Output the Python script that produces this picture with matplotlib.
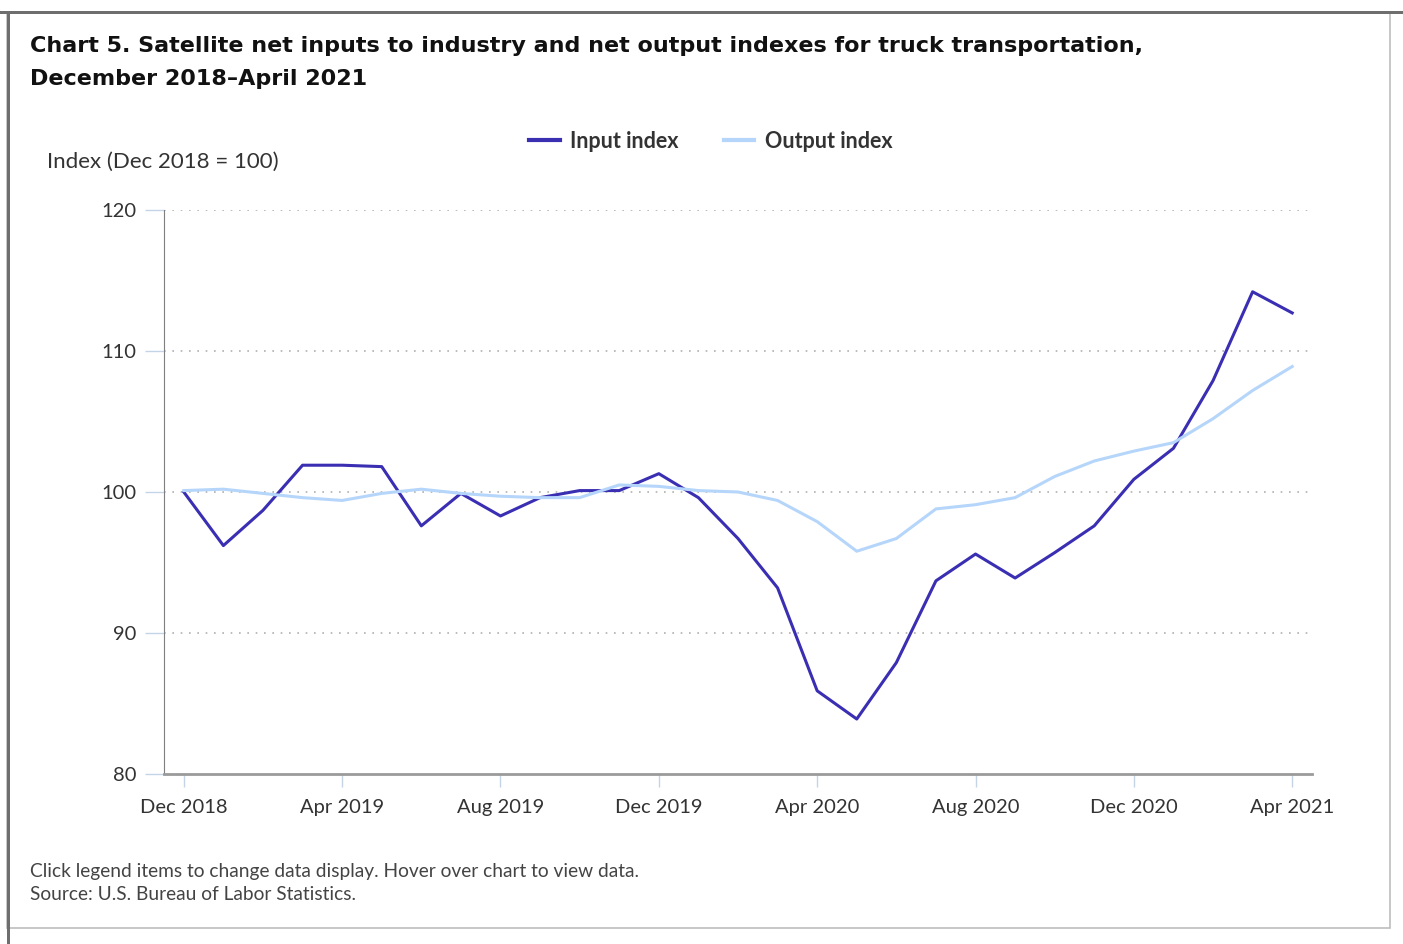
import matplotlib.pyplot as plt
from matplotlib.patches import Rectangle

# monthly values, Dec 2018 .. Apr 2021
months = ['Dec 2018', 'Jan 2019', 'Feb 2019', 'Mar 2019', 'Apr 2019', 'May 2019', 'Jun 2019',
          'Jul 2019', 'Aug 2019', 'Sep 2019', 'Oct 2019', 'Nov 2019', 'Dec 2019', 'Jan 2020',
          'Feb 2020', 'Mar 2020', 'Apr 2020', 'May 2020', 'Jun 2020', 'Jul 2020', 'Aug 2020',
          'Sep 2020', 'Oct 2020', 'Nov 2020', 'Dec 2020', 'Jan 2021', 'Feb 2021', 'Mar 2021',
          'Apr 2021']
input_index = [100.0, 96.2, 98.7, 101.9, 101.9, 101.8, 97.6, 99.9, 98.3, 99.6, 100.1, 100.1,
               101.3, 99.6, 96.7, 93.2, 85.9, 83.9, 87.9, 93.7, 95.6, 93.9, 95.7, 97.6,
               100.9, 103.1, 107.9, 114.2, 112.7]
output_index = [100.1, 100.2, 99.9, 99.6, 99.4, 99.9, 100.2, 99.9, 99.7, 99.6, 99.6, 100.5,
                100.4, 100.1, 100.0, 99.4, 97.9, 95.8, 96.7, 98.8, 99.1, 99.6, 101.1, 102.2,
                102.9, 103.5, 105.2, 107.2, 108.9]
yticks = [80, 90, 100, 110, 120]

FONT = 'Lato'
txt = '#333333'

fig = plt.figure(figsize=(14.03, 9.44), dpi=100)

# screenshot frame
fig.patches.append(Rectangle((7 / 1403, 1 - 928 / 944), (1390 - 7) / 1403, (928 - 12) / 944,
                             transform=fig.transFigure, fill=False, edgecolor='#bdbdbd', lw=1.2))
fig.patches.append(Rectangle((0, 1 - 14 / 944), 1, 3 / 944, transform=fig.transFigure,
                             color='#6e6e6e', lw=0))
fig.patches.append(Rectangle((7 / 1403, 1 - 944 / 944), 3 / 1403, (944 - 12) / 944,
                             transform=fig.transFigure, color='#6e6e6e', lw=0))

ax = fig.add_axes([164 / 1403, 1 - 774 / 944, (1312 - 164) / 1403, (774 - 210) / 944])
x = list(range(len(months)))
ax.plot(x, input_index, color='#3a2fb3', lw=2.2, label='Input index')
ax.plot(x, output_index, color='#b5d6fa', lw=2.2, label='Output index')

ax.set_xlim(-0.5, 28.5)
ax.set_ylim(80, 120)
ax.set_yticks(yticks)
ax.set_yticklabels([str(v) for v in yticks], fontfamily=FONT, fontsize=14.5, color=txt)
ax.set_xticks(x[::4])
ax.set_xticklabels(months[::4], fontfamily=FONT, fontsize=14.5, color=txt)
ax.tick_params(axis='x', length=9, color='#c4d3e6', width=1, pad=9)
ax.tick_params(axis='y', length=14, color='#c4d3e6', width=1, pad=6)

for v in yticks[1:]:
    ax.axhline(v, color='#b0b0b0', lw=1.2, ls=(0, (1, 4)), zorder=0)

for s in ['top', 'right']:
    ax.spines[s].set_visible(False)
ax.spines['left'].set_color('#7f7f7f')
ax.spines['bottom'].set_color('#9a9a9a')
ax.spines['bottom'].set_linewidth(2)

leg = fig.legend(loc='center', bbox_to_anchor=(711 / 1403, 1 - 141 / 944), ncol=2,
                 frameon=False, handlelength=1.4, columnspacing=2.1, handletextpad=0.5,
                 prop={'family': FONT, 'size': 15.5, 'weight': 'bold'})
for t in leg.get_texts():
    t.set_color(txt)
for h in leg.get_lines():
    h.set_linewidth(3)

fig.text(30 / 1403, 1 - 46 / 944,
         'Chart 5. Satellite net inputs to industry and net output indexes for truck transportation,',
         fontfamily='DejaVu Sans', fontweight='bold', fontsize=16, color='#111111', va='center')
fig.text(30 / 1403, 1 - 79 / 944, 'December 2018\u2013April 2021',
         fontfamily='DejaVu Sans', fontweight='bold', fontsize=16, color='#111111', va='center')
fig.text(47 / 1403, 1 - 162 / 944, 'Index (Dec 2018 = 100)', fontfamily=FONT, fontsize=16,
         color=txt, va='center')
fig.text(30 / 1403, 1 - 871 / 944,
         'Click legend items to change data display. Hover over chart to view data.',
         fontfamily=FONT, fontsize=13.8, color='#444444', va='center')
fig.text(30 / 1403, 1 - 894 / 944, 'Source: U.S. Bureau of Labor Statistics.',
         fontfamily=FONT, fontsize=13.8, color='#444444', va='center')

fig.savefig('out.png', dpi=100)
